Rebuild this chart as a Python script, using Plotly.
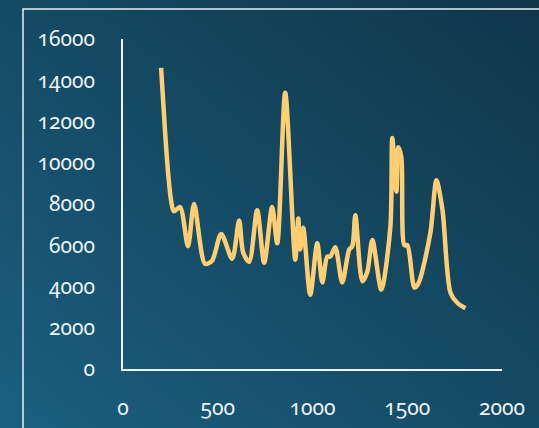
import base64
import plotly.graph_objects as go

# Series values
x_vals = [201, 222, 240, 255, 268, 301, 343, 375, 433, 470, 518, 576, 613, 634,
          666, 708, 745, 787, 814, 856, 909, 925, 935, 951, 988, 1025, 1052,
          1078, 1094, 1120, 1157, 1194, 1210, 1226, 1263, 1289, 1316, 1363,
          1411, 1421, 1443, 1453, 1469, 1485, 1501, 1538, 1559, 1622, 1654,
          1686, 1728, 1765, 1807]
y_vals = [14600, 11500, 9300, 8100, 7650, 7850, 5950, 8000, 5100, 5250, 6550,
          5350, 7200, 5650, 5200, 7700, 5150, 7850, 6100, 13400, 5300, 7300,
          5800, 6850, 3600, 6100, 4200, 5450, 5450, 5900, 4200, 5800, 5950,
          7450, 4250, 4700, 6250, 3850, 6900, 11200, 8600, 10750, 10250, 6000,
          6000, 3950, 4150, 6600, 9150, 7700, 3700, 3200, 2950]

x_ticks = [0, 500, 1000, 1500, 2000]
y_ticks = [0, 2000, 4000, 6000, 8000, 10000, 12000, 14000, 16000]

W, H = 539, 428
ML, MR, MT, MB = 123, 37, 39, 59
PW, PH = W - ML - MR, H - MT - MB

# Diagonal background gradient as an SVG image
svg = (
    f'<svg xmlns="http://www.w3.org/2000/svg" width="{W}" height="{H}" '
    f'preserveAspectRatio="none" viewBox="0 0 {W} {H}">'
    '<defs><linearGradient id="g" x1="0" y1="1" x2="1" y2="0">'
    '<stop offset="0" stop-color="#1b5f80"/>'
    '<stop offset="0.5" stop-color="#154a64"/>'
    '<stop offset="1" stop-color="#10364a"/>'
    '</linearGradient></defs>'
    f'<rect width="{W}" height="{H}" fill="url(#g)"/></svg>'
)
bg_src = "data:image/svg+xml;base64," + base64.b64encode(svg.encode()).decode()

fig = go.Figure()
fig.add_trace(go.Scatter(
    x=x_vals, y=y_vals, mode="lines",
    line=dict(color="#ffcd72", width=4.5, shape="spline", smoothing=0.8),
    hoverinfo="skip",
))

font = dict(family="Noto Sans", size=21, color="#eef2f4")

fig.update_layout(
    width=W, height=H,
    margin=dict(l=ML, r=MR, t=MT, b=MB, pad=0, autoexpand=False),
    paper_bgcolor="#154a64",
    plot_bgcolor="rgba(0,0,0,0)",
    showlegend=False,
    font=font,
    images=[dict(
        source=bg_src, xref="paper", yref="paper",
        x=-ML / PW, y=1 + MT / PH, sizex=W / PW, sizey=H / PH,
        xanchor="left", yanchor="top", sizing="stretch", layer="below",
    )],
    shapes=[dict(
        type="rect", xref="paper", yref="paper",
        x0=(23 - ML) / PW, x1=(W + 20 - ML) / PW,
        y0=-(MB + 20) / PH, y1=1 + (MT - 9) / PH,
        line=dict(color="#e8eef2", width=1.5), fillcolor="rgba(0,0,0,0)",
    )],
    xaxis=dict(
        range=[0, 2000], tickvals=x_ticks, ticktext=[str(v) for v in x_ticks],
        showgrid=False, zeroline=False, showline=True, linecolor="#eef2f4",
        linewidth=1.5, ticks="", ticklabelstandoff=19, automargin=False,
    ),
    yaxis=dict(
        range=[0, 16000], tickvals=y_ticks, ticktext=[str(v) for v in y_ticks],
        showgrid=False, zeroline=False, showline=True, linecolor="#eef2f4",
        linewidth=1.5, ticks="", ticklabelstandoff=22, automargin=False,
    ),
)

# Old-style figures for the tick labels
onum_css = (
    "var s=document.createElement('style');"
    "s.textContent='.main-svg text{font-feature-settings:\"onum\" 1;}';"
    "document.head.appendChild(s);"
)

fig.write_html("out.html", post_script=onum_css)
